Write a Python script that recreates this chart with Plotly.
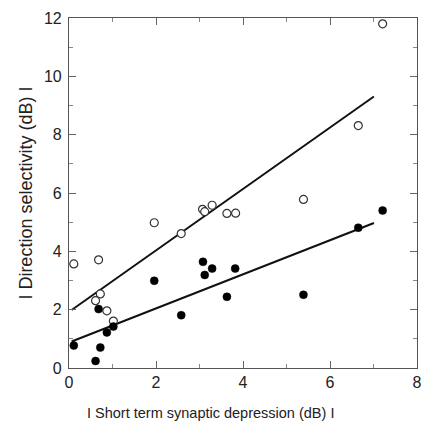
import plotly.graph_objects as go

# Data
open_x = [0.11, 0.68, 0.72, 0.61, 0.87, 1.02, 1.96, 2.58, 3.07, 3.12, 3.29, 3.63, 3.83, 5.39, 6.65, 7.21]
open_y = [3.57, 3.71, 2.54, 2.31, 1.96, 1.61, 4.98, 4.61, 5.44, 5.36, 5.58, 5.30, 5.31, 5.78, 8.31, 11.80]
filled_x = [0.11, 0.68, 0.61, 0.72, 0.87, 1.02, 1.96, 2.58, 3.08, 3.12, 3.29, 3.63, 3.82, 5.39, 6.65, 7.21]
filled_y = [0.77, 2.02, 0.24, 0.70, 1.22, 1.42, 2.99, 1.81, 3.64, 3.19, 3.41, 2.44, 3.41, 2.51, 4.81, 5.40]

fit_x = [0.06, 7.01]
open_fit_y = [1.99, 9.31]
filled_fit_y = [0.91, 4.97]

x_ticks = [0, 2, 4, 6, 8]
y_ticks = [0, 2, 4, 6, 8, 10, 12]

x_title = "I Short term synaptic depression (dB) I"
y_title = "I Direction selectivity (dB) I"

W, H = 426, 424
ML, MR, MT, MB = 69, 4, 18, 56

fig = go.Figure()
fig.add_trace(go.Scatter(x=fit_x, y=open_fit_y, mode="lines",
                         line=dict(color="#111111", width=2), showlegend=False))
fig.add_trace(go.Scatter(x=fit_x, y=filled_fit_y, mode="lines",
                         line=dict(color="#111111", width=2), showlegend=False))
fig.add_trace(go.Scatter(x=open_x, y=open_y, mode="markers",
                         marker=dict(symbol="circle", size=8, color="white",
                                     line=dict(color="#333333", width=1.2)),
                         showlegend=False))
fig.add_trace(go.Scatter(x=filled_x, y=filled_y, mode="markers",
                         marker=dict(symbol="circle", size=8, color="#000000",
                                     line=dict(color="#000000", width=0.5)),
                         showlegend=False))

axis_common = dict(
    showgrid=False, zeroline=False, showline=True, linecolor="#555555", linewidth=1.2,
    mirror="allticks", ticks="inside", ticklen=7, tickwidth=1, tickcolor="#666666",
    tickfont=dict(family="Liberation Sans, Arial, sans-serif", size=16, color="#222222"),
    minor=dict(ticks="inside", ticklen=4, tickwidth=1, tickcolor="#888888", dtick=1),
    ticklabeloverflow="allow",
)

fig.update_xaxes(range=[0, 8], tickvals=x_ticks, ticktext=[str(v) for v in x_ticks], **axis_common)
fig.update_yaxes(range=[0, 12], tickvals=y_ticks, ticktext=[str(v) for v in y_ticks],
                 ticklabelstandoff=3, **axis_common)

plot_w = W - ML - MR
fig.add_annotation(text=x_title, xref="paper", yref="paper",
                   x=(213 - ML) / plot_w, y=-(413 - (H - MB)) / (H - MT - MB),
                   showarrow=False, xanchor="center", yanchor="middle",
                   font=dict(family="Liberation Sans, Arial, sans-serif", size=14.5, color="#222222"))
fig.add_annotation(text=y_title, xref="paper", yref="paper",
                   x=-(ML - 25) / plot_w, y=0.5, textangle=-90,
                   showarrow=False, xanchor="center", yanchor="middle",
                   font=dict(family="Liberation Sans, Arial, sans-serif", size=18, color="#222222"))

fig.update_layout(width=W, height=H, margin=dict(l=ML, r=MR, t=MT, b=MB),
                  plot_bgcolor="white", paper_bgcolor="white")

fig.write_html("out.html")
